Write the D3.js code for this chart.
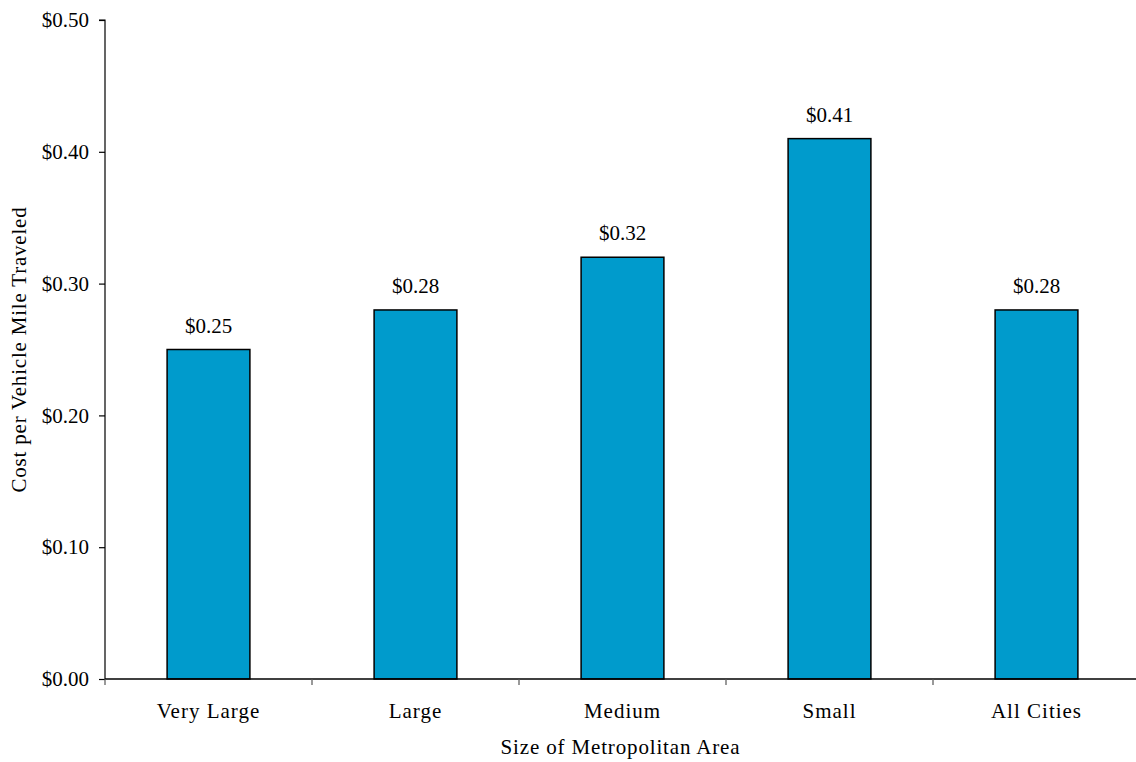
<!DOCTYPE html>
<html><head><meta charset="utf-8">
<script src="https://cdn.jsdelivr.net/npm/d3@7"></script>
<style>body{margin:0;background:#fff}svg{display:block}text{font-family:"Liberation Serif","DejaVu Serif",serif;fill:#000}</style>
</head><body>
<svg id="c" width="1136" height="762"></svg>
<script>
const categories = ["Very Large","Large","Medium","Small","All Cities"];
const values = [0.25,0.28,0.32,0.41,0.28];
const yTicks = [0,0.1,0.2,0.3,0.4,0.5];

const svg = d3.select("#c");
const x0 = 105, x1 = 1140, yTop = 20, yBot = 679;
const x = d3.scaleBand().domain(categories).range([x0,x1]).paddingInner(0).paddingOuter(0);
const y = d3.scaleLinear().domain([0,0.5]).range([yBot,yTop]);
const fmt = d => "$" + d3.format(".2f")(d);

// bars
const bw = x.bandwidth()*0.4;
svg.selectAll("rect.bar").data(values).join("rect")
  .attr("x",(d,i)=>x(categories[i])+x.bandwidth()/2-bw/2)
  .attr("y",d=>y(d)).attr("width",bw).attr("height",d=>y(0)-y(d))
  .attr("fill","#009BCC").attr("stroke","#000").attr("stroke-width",1.5);

// value labels
svg.selectAll("text.val").data(values).join("text")
  .attr("x",(d,i)=>x(categories[i])+x.bandwidth()/2)
  .attr("y",d=>y(d)-17).attr("text-anchor","middle").attr("font-size","21px")
  .text(fmt);

// y axis
const ya = svg.append("g").attr("transform",`translate(${x0},0)`)
  .call(d3.axisLeft(y).tickValues(yTicks).tickFormat(fmt).tickSize(6).tickPadding(10));
ya.selectAll("text").attr("font-size","21px").style("font-family","'Liberation Serif',serif").attr("fill","#000");
ya.select(".domain").attr("stroke","#000").attr("stroke-width",1.2).attr("d",`M-6,${yTop}H0V${yBot}`);
ya.selectAll(".tick line").attr("stroke","#000").attr("stroke-width",1.2);

// x axis
const xa = svg.append("g").attr("transform",`translate(0,${yBot})`)
  .call(d3.axisBottom(x).tickSize(0).tickPadding(24));
xa.selectAll("text").attr("font-size","21px").style("font-family","'Liberation Serif',serif")
  .style("letter-spacing","1px").attr("fill","#000");
xa.select(".domain").attr("stroke","#000").attr("stroke-width",1.5).attr("d",`M${x0},0H${x1}`);
const bounds = categories.map(c=>x(c));
xa.selectAll("line.bt").data(bounds).join("line").attr("class","bt")
  .attr("x1",d=>d).attr("x2",d=>d).attr("y1",0).attr("y2",6)
  .attr("stroke","#555").attr("stroke-width",1.2);

// axis titles
svg.append("text").attr("x",(x0+x1)/2-2).attr("y",754).attr("text-anchor","middle")
  .attr("font-size","21px").style("letter-spacing","0.85px").text("Size of Metropolitan Area");
svg.append("text").attr("transform",`translate(26,${(yTop+yBot)/2}) rotate(-90)`)
  .attr("text-anchor","middle").attr("font-size","21px").style("letter-spacing","0.8px")
  .text("Cost per Vehicle Mile Traveled");
</script>
</body></html>
